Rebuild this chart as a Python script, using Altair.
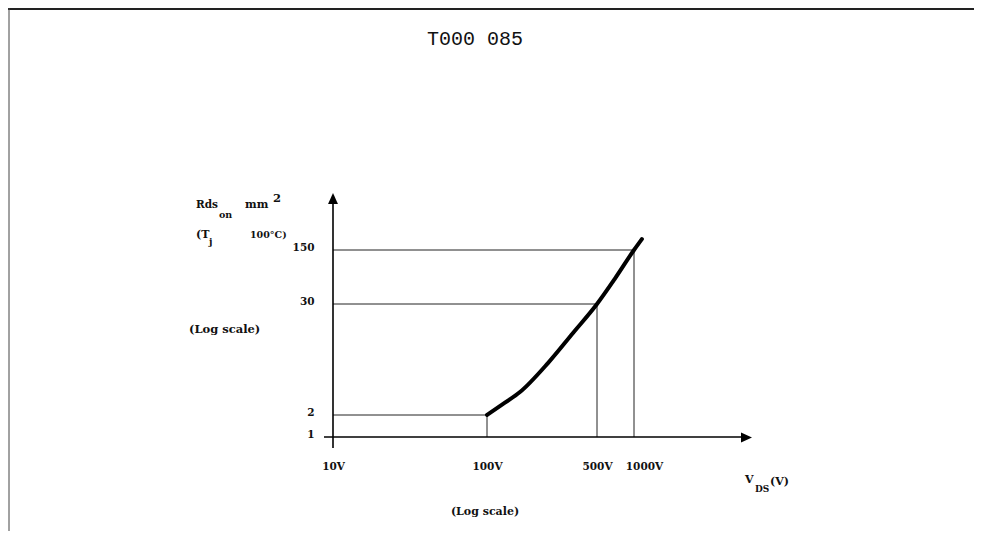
import altair as alt
import pandas as pd

# ---- values ----
v_curve = [100, 130, 162, 244, 352, 500, 700, 1000, 1160]   # V_DS (V)
r_curve = [2, 2.7, 3.5, 7.1, 14.8, 30, 64, 150, 208]        # Rds_on mm^2
v_marks = [100, 500, 1000]
r_marks = [2, 30, 150]
x_ticks = [10, 100, 500, 1000]
y_ticks = [1, 2, 30, 150]

# hand-drawn log axes: piecewise log scales anchored at the labelled values
x_rng = [0, 154, 264, 301]
y_rng = [244, 222, 111, 57]

curve = pd.DataFrame({"V": v_curve, "R": r_curve})
marks = pd.DataFrame({"V": v_marks, "R": r_marks,
                      "V0": [x_ticks[0]] * len(v_marks),
                      "R0": [y_ticks[0]] * len(r_marks)})
one = pd.DataFrame({"k": [0]})

xs = alt.Scale(type="log", domain=x_ticks, range=x_rng, nice=False)
ys = alt.Scale(type="log", domain=y_ticks, range=y_rng, nice=False)

LF = "DejaVu Serif"
x_axis = alt.Axis(values=x_ticks, labelExpr="datum.value + 'V'", domain=False,
                  ticks=False, grid=False, title=None, labelFont=LF,
                  labelFontWeight="bold", labelFontSize=10.5, labelColor="#111",
                  labelPadding=24, labelFlush=False, labelOverlap=False,
                  labelOffset={"condition": {"test": "datum.value == 1000", "value": 10},
                               "value": 0})
y_axis = alt.Axis(values=y_ticks, format="d", domain=False, ticks=False,
                  grid=False, title=None, labelFont=LF, labelFontWeight="bold",
                  labelFontSize=10.5, labelColor="#111", labelPadding=19,
                  labelFlush=False, labelOverlap=False, labelOffset=-3)

line = alt.Chart(curve).mark_line(color="black", strokeWidth=4,
                                  interpolate="monotone", strokeCap="round").encode(
    x=alt.X("V:Q", scale=xs, axis=x_axis),
    y=alt.Y("R:Q", scale=ys, axis=y_axis),
    order="V:Q",
)

hlines = alt.Chart(marks).mark_rule(color="#222", strokeWidth=1).encode(
    x=alt.X("V0:Q", scale=xs, axis=x_axis),
    x2="V:Q",
    y=alt.Y("R:Q", scale=ys, axis=y_axis),
)
vlines = alt.Chart(marks).mark_rule(color="#222", strokeWidth=1).encode(
    x=alt.X("V:Q", scale=xs, axis=x_axis),
    y=alt.Y("R0:Q", scale=ys, axis=y_axis),
    y2="R:Q",
)

# axis lines with arrowheads and the scan frame
yaxis_line = alt.Chart(one).mark_rule(color="black", strokeWidth=1.6).encode(
    x=alt.value(0), y=alt.value(10), y2=alt.value(255))
xaxis_line = alt.Chart(one).mark_rule(color="black", strokeWidth=1.6).encode(
    x=alt.value(-9), x2=alt.value(409), y=alt.value(244))
up_arrow = alt.Chart(one).mark_point(shape="M0,-1L0.9,1L-0.9,1Z", filled=True,
                                     size=121, color="black", opacity=1).encode(
    x=alt.value(0), y=alt.value(5.5))
right_arrow = alt.Chart(one).mark_point(shape="M1,0L-1,-0.9L-1,0.9Z", filled=True,
                                        size=121, color="black", opacity=1).encode(
    x=alt.value(413.5), y=alt.value(244.5))
frame_top = alt.Chart(one).mark_rule(color="#222", strokeWidth=2).encode(
    x=alt.value(-325), x2=alt.value(641), y=alt.value(-184))
frame_left = alt.Chart(one).mark_rule(color="#444", strokeWidth=1).encode(
    x=alt.value(-324), y=alt.value(-185), y2=alt.value(338))


def txt(s, x, y, size=11, font=LF, weight="bold", align="left"):
    return alt.Chart(pd.DataFrame({"t": [s]})).mark_text(
        align=align, baseline="middle", font=font, fontSize=size,
        fontWeight=weight, color="#111").encode(
        text="t:N", x=alt.value(x), y=alt.value(y))


texts = [
    txt("T000 085", 142, -154, size=20, font="Liberation Mono", weight="normal",
        align="center"),
    txt("Rds", -137, 12, size=10.5),
    txt("on", -114, 22, size=9.5),
    txt("mm", -88, 12, size=11),
    txt("2", -60, 6, size=11.5),
    txt("(T", -137, 42, size=11),
    txt("j", -124, 49, size=9.5),
    txt("100°C)", -83, 42, size=9.5),
    txt("(Log scale)", -144, 137, size=11.5),
    txt("V", 412, 287, size=11),
    txt("DS", 422, 296, size=9),
    txt("(V)", 437, 289, size=11),
    txt("(Log scale)", 152, 319, size=11, align="center"),
]

chart = alt.layer(
    frame_top, frame_left, hlines, vlines, yaxis_line, xaxis_line,
    up_arrow, right_arrow, line, *texts
).properties(
    width=419, height=244,
    padding={"left": 325, "top": 185, "right": 222, "bottom": 94},
    autosize=alt.AutoSizeParams(type="none"),
    background="white",
).configure_view(strokeWidth=0)

chart.save("out.html", embed_options={"renderer": "svg", "actions": False})
